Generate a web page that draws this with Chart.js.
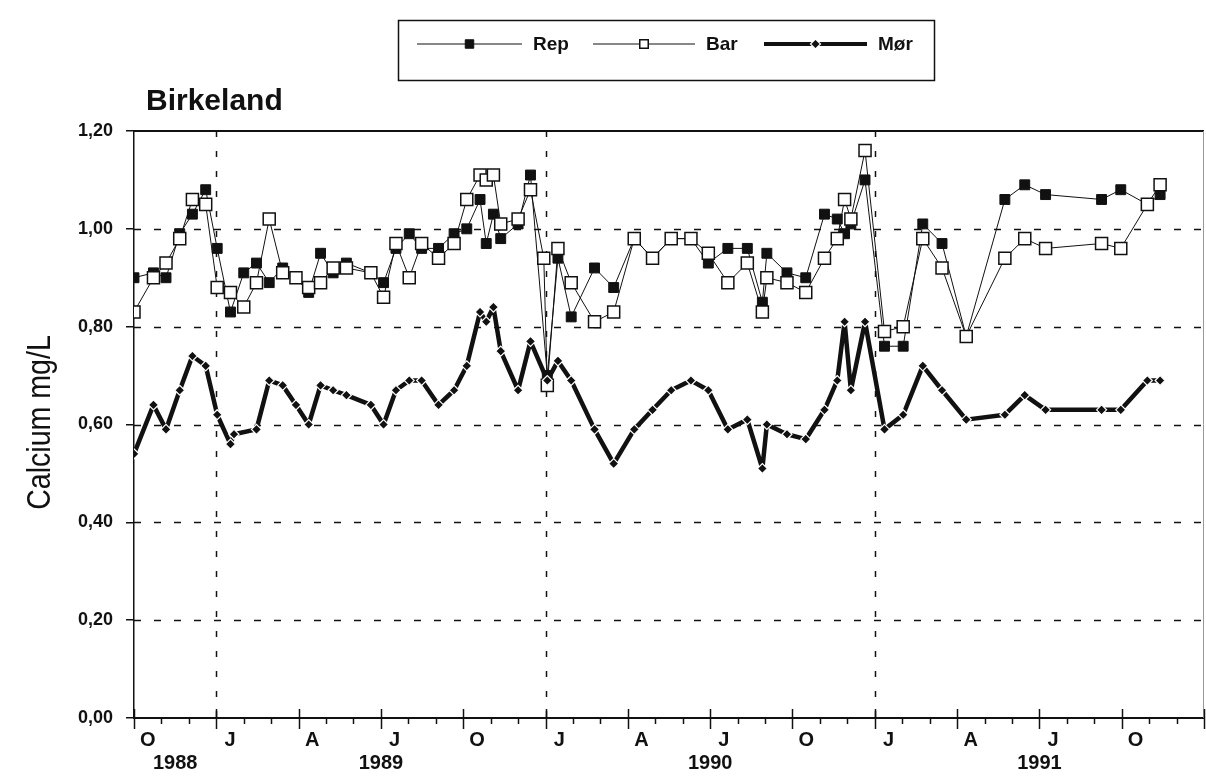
<!DOCTYPE html>
<html>
<head>
<meta charset="utf-8">
<title>Birkeland</title>
<script src="https://cdn.jsdelivr.net/npm/chart.js@4.4.1/dist/chart.umd.min.js"></script>
<style>
html, body { margin: 0; padding: 0; background: #fff; }
#wrap { width: 1206px; height: 782px; }
</style>
</head>
<body>
<div id="wrap"><canvas id="chartView" width="1206" height="782"></canvas></div>
<script>
var sampleDates = [
  '1988-10-01', '1988-10-23', '1988-11-06', '1988-11-21', '1988-12-05', '1988-12-20',
  '1989-01-02', '1989-01-17', '1989-01-21', '1989-02-01', '1989-02-14', '1989-02-27',
  '1989-03-14', '1989-03-29', '1989-04-12', '1989-04-25', '1989-05-09', '1989-05-24',
  '1989-06-20', '1989-07-04', '1989-07-18', '1989-08-02', '1989-08-16', '1989-09-04',
  '1989-09-21', '1989-10-05', '1989-10-20', '1989-10-27', '1989-11-04', '1989-11-12',
  '1989-12-01', '1989-12-15', '1989-12-30', '1990-01-03', '1990-01-15', '1990-01-30',
  '1990-02-23', '1990-03-16', '1990-04-08', '1990-04-28', '1990-05-19', '1990-06-10',
  '1990-06-29', '1990-07-21', '1990-08-12', '1990-08-29', '1990-09-03', '1990-09-25',
  '1990-10-16', '1990-11-06', '1990-11-20', '1990-11-28', '1990-12-05', '1990-12-21',
  '1991-01-12', '1991-02-02', '1991-02-22', '1991-03-15', '1991-04-11', '1991-05-24',
  '1991-06-15', '1991-07-08', '1991-09-09', '1991-09-30', '1991-10-30', '1991-11-13'
];

var rep = [
  0.90, 0.91, 0.90, 0.99, 1.03, 1.08,
  0.96, 0.83, null, 0.91, 0.93, 0.89,
  0.92, 0.90, 0.87, 0.95, 0.91, 0.93,
  0.91, 0.89, 0.96, 0.99, 0.96, 0.96,
  0.99, 1.00, 1.06, 0.97, 1.03, 0.98,
  1.01, 1.11, null, 0.70, 0.94, 0.82,
  0.92, 0.88, 0.98, 0.94, 0.98, 0.98,
  0.93, 0.96, 0.96, 0.85, 0.95, 0.91,
  0.90, 1.03, 1.02, 0.99, 1.01, 1.10,
  0.76, 0.76, 1.01, 0.97, 0.78, 1.06,
  1.09, 1.07, 1.06, 1.08, 1.05, 1.07
];

var bar = [
  0.83, 0.90, 0.93, 0.98, 1.06, 1.05,
  0.88, 0.87, null, 0.84, 0.89, 1.02,
  0.91, 0.90, 0.88, 0.89, 0.92, 0.92,
  0.91, 0.86, 0.97, 0.90, 0.97, 0.94,
  0.97, 1.06, 1.11, 1.10, 1.11, 1.01,
  1.02, 1.08, 0.94, 0.68, 0.96, 0.89,
  0.81, 0.83, 0.98, 0.94, 0.98, 0.98,
  0.95, 0.89, 0.93, 0.83, 0.90, 0.89,
  0.87, 0.94, 0.98, 1.06, 1.02, 1.16,
  0.79, 0.80, 0.98, 0.92, 0.78, 0.94,
  0.98, 0.96, 0.97, 0.96, 1.05, 1.09
];

var mor = [
  0.54, 0.64, 0.59, 0.67, 0.74, 0.72,
  0.62, 0.56, 0.58, null, 0.59, 0.69,
  0.68, 0.64, 0.60, 0.68, 0.67, 0.66,
  0.64, 0.60, 0.67, 0.69, 0.69, 0.64,
  0.67, 0.72, 0.83, 0.81, 0.84, 0.75,
  0.67, 0.77, null, 0.69, 0.73, 0.69,
  0.59, 0.52, 0.59, 0.63, 0.67, 0.69,
  0.67, 0.59, 0.61, 0.51, 0.60, 0.58,
  0.57, 0.63, 0.69, 0.81, 0.67, 0.81,
  0.59, 0.62, 0.72, 0.67, 0.61, 0.62,
  0.66, 0.63, 0.63, 0.63, 0.69, 0.69
];

var seriesNames = ['Rep', 'Bar', 'Mør'];
var yTicks = [0, 0.2, 0.4, 0.6, 0.8, 1.0, 1.2];
var quarterLetters = ['O', 'J', 'A', 'J', 'O', 'J', 'A', 'J', 'O', 'J', 'A', 'J', 'O'];
var years = ['1988', '1989', '1990', '1991'];
var axisStart = '1988-10-01';
var axisEnd = '1992-01-01';

function monthIndex(d) {
  var p = d.split('-');
  var y = +p[0], m = +p[1], day = +p[2];
  var days = new Date(y, m, 0).getDate();
  return (y - 1988) * 12 + (m - 10) + (day - 1) / days;
}

function points(values) {
  return sampleDates.map(function (d, i) {
    return { x: monthIndex(d), y: values[i] };
  });
}

var ink = '#111';
var fontMain = '"Liberation Sans", Arial, sans-serif';

var frame = {
  id: 'frame',
  beforeDatasetsDraw: function (chart) {
    var ctx = chart.ctx, a = chart.chartArea, xs = chart.scales.x, ys = chart.scales.y;
    ctx.save();
    ctx.strokeStyle = ink;
    ctx.lineWidth = 1.5;
    ctx.setLineDash([7, 13]);
    yTicks.forEach(function (v) {
      if (v <= 0 || v >= 1.2) return;
      var y = Math.round(ys.getPixelForValue(v)) + 0.5;
      ctx.beginPath(); ctx.moveTo(a.left, y); ctx.lineTo(a.right, y); ctx.stroke();
    });
    ctx.setLineDash([6, 14]);
    years.slice(1).forEach(function (yr) {
      var x = Math.round(xs.getPixelForValue(monthIndex(yr + '-01-01'))) + 0.5;
      ctx.beginPath(); ctx.moveTo(x, a.top); ctx.lineTo(x, a.bottom); ctx.stroke();
    });
    ctx.setLineDash([]);
    ctx.lineWidth = 2;
    ctx.beginPath(); ctx.moveTo(a.left, a.top); ctx.lineTo(a.right, a.top); ctx.stroke();
    ctx.strokeStyle = '#999';
    ctx.lineWidth = 1;
    ctx.beginPath(); ctx.moveTo(a.right - 0.5, a.top); ctx.lineTo(a.right - 0.5, a.bottom); ctx.stroke();
    ctx.restore();
  },
  afterDraw: function (chart) {
    var ctx = chart.ctx, a = chart.chartArea, xs = chart.scales.x;
    var y0 = a.bottom;
    var last = monthIndex(axisEnd);
    ctx.save();
    ctx.strokeStyle = ink;
    ctx.lineWidth = 1.5;
    for (var m = 0; m <= last; m++) {
      var x = Math.round(xs.getPixelForValue(m)) + 0.5;
      ctx.beginPath();
      if (m % 3 === 0) { ctx.moveTo(x, y0 - 9); ctx.lineTo(x, y0 + 11); }
      else { ctx.moveTo(x, y0); ctx.lineTo(x, y0 + 6); }
      ctx.stroke();
    }
    ctx.fillStyle = ink;
    ctx.textAlign = 'center';
    ctx.textBaseline = 'middle';
    ctx.font = 'bold 20px ' + fontMain;
    quarterLetters.forEach(function (t, i) {
      ctx.fillText(t, xs.getPixelForValue(i * 3 + 0.5), y0 + 22);
    });
    years.forEach(function (yr) {
      var s = Math.max(monthIndex(yr + '-01-01'), 0);
      var e = Math.min(monthIndex((+yr + 1) + '-01-01'), last);
      ctx.fillText(yr, xs.getPixelForValue((s + e) / 2), y0 + 45);
    });

    ctx.textAlign = 'left';
    ctx.font = 'bold 30px ' + fontMain;
    ctx.fillText('Birkeland', 146, 102);

    // y title, squeezed to look like the condensed original
    ctx.save();
    ctx.translate(41, (a.top + a.bottom) / 2 - 2);
    ctx.rotate(-Math.PI / 2);
    ctx.scale(0.84, 1);
    ctx.textAlign = 'center';
    ctx.font = '34px ' + fontMain;
    ctx.fillText('Calcium mg/L', 0, 0);
    ctx.restore();

    drawLegend(chart);
    ctx.restore();
  }
};

function drawLegend(chart) {
  var ctx = chart.ctx;
  ctx.save();
  ctx.strokeStyle = ink;
  ctx.lineWidth = 1.5;
  ctx.strokeRect(398.5, 20.5, 536, 60);
  var rows = [
    { x: 417, w: 105 },
    { x: 593, w: 102 },
    { x: 764, w: 103 }
  ];
  var y = 44;
  chart.data.datasets.forEach(function (ds, i) {
    var r = rows[i];
    ctx.strokeStyle = ds.borderColor;
    ctx.lineWidth = i === 2 ? 4 : 1;
    ctx.beginPath(); ctx.moveTo(r.x, y); ctx.lineTo(r.x + r.w, y); ctx.stroke();
    var cx = r.x + r.w / 2;
    ctx.fillStyle = ds.pointBackgroundColor;
    ctx.strokeStyle = ds.pointBorderColor;
    ctx.lineWidth = ds.pointBorderWidth;
    Chart.helpers.drawPoint(ctx, {
      pointStyle: ds.pointStyle,
      radius: i === 2 ? 5 : 6,
      rotation: 0,
      borderWidth: ds.pointBorderWidth
    }, cx, y);
    ctx.fillStyle = ink;
    ctx.font = 'bold 19px ' + fontMain;
    ctx.textAlign = 'left';
    ctx.textBaseline = 'middle';
    ctx.fillText(ds.label, r.x + r.w + 11, y + 1);
  });
  ctx.restore();
}

var ctx = document.getElementById('chartView').getContext('2d');
new Chart(ctx, {
  type: 'line',
  data: {
    datasets: [
      {
        label: seriesNames[0],
        data: points(rep),
        borderColor: ink,
        borderWidth: 1,
        pointStyle: 'rect',
        pointRadius: 7,
        pointBackgroundColor: ink,
        pointBorderColor: ink,
        pointBorderWidth: 1,
        spanGaps: true,
        order: 3
      },
      {
        label: seriesNames[1],
        data: points(bar),
        borderColor: ink,
        borderWidth: 1,
        pointStyle: 'rect',
        pointRadius: 8.5,
        pointBackgroundColor: '#fff',
        pointBorderColor: ink,
        pointBorderWidth: 1.5,
        spanGaps: true,
        order: 2
      },
      {
        label: seriesNames[2],
        data: points(mor),
        borderColor: ink,
        borderWidth: 4.5,
        pointStyle: 'rectRot',
        pointRadius: 5,
        pointBackgroundColor: ink,
        pointBorderColor: '#fff',
        pointBorderWidth: 1.2,
        spanGaps: true,
        order: 1
      }
    ]
  },
  options: {
    responsive: false,
    animation: false,
    devicePixelRatio: 1,
    layout: { autoPadding: false, padding: { top: 131, right: 2, left: 0, bottom: 0 } },
    plugins: { legend: { display: false }, tooltip: { enabled: false }, title: { display: false } },
    elements: { line: { tension: 0, borderJoinStyle: 'round' } },
    scales: {
      x: {
        type: 'linear',
        min: monthIndex(axisStart),
        max: monthIndex(axisEnd),
        ticks: { display: false },
        grid: { display: false },
        border: { display: true, color: ink, width: 2 },
        afterFit: function (s) { s.height = 64; }
      },
      y: {
        min: 0,
        max: 1.2,
        afterBuildTicks: function (s) { s.ticks = yTicks.map(function (v) { return { value: v }; }); },
        ticks: {
          color: ink,
          padding: 13,
          font: { family: fontMain, size: 18, weight: 'bold' },
          callback: function (v) { return v.toFixed(2).replace('.', ','); }
        },
        grid: { drawOnChartArea: false, drawTicks: true, tickLength: 8, color: ink, lineWidth: 1.5 },
        border: { display: true, color: ink, width: 1.5 },
        afterFit: function (s) { s.width = 134; }
      }
    }
  },
  plugins: [frame]
});
</script>
</body>
</html>
